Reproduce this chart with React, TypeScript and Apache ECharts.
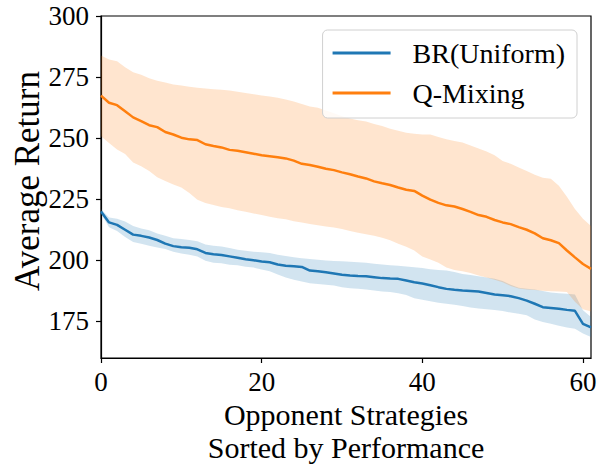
import React, { useEffect, useRef } from "react";
import * as echarts from "echarts";

const strategyIndex: number[] = Array.from({ length: 62 }, (_, i) => i);

const qMixingMean: number[] = [
  267.4, 264.5, 263.5, 261, 258.5, 257, 255.3, 254.5, 252.5, 251.5,
  250.2, 249.5, 249.2, 247.5, 246.8, 246.2, 245.2, 244.8, 244.2, 243.6,
  243.0, 242.6, 242.2, 241.7, 240.8, 239.5, 239.0, 238.3, 237.5, 236.9,
  236.0, 235.2, 234.3, 233.5, 232.3, 231.5, 230.8, 229.8, 228.9, 228.4,
  226.5, 224.8, 223.5, 222.5, 222.0, 221.0, 219.8, 218.5, 217.8, 216.5,
  215.5, 214.8, 213.6, 212.5, 211.0, 209.0, 208.2, 207.0, 204.0, 201.2,
  198.5, 196.5,
];
const qMixingUpper: number[] = [
  283.8, 282.2, 281.5, 279, 277, 276, 274.5, 273.5, 272.8, 272,
  271.5, 271, 270.6, 270.3, 270, 269.8, 269.5, 269, 268.5, 268,
  267.5, 267, 266.5, 265.8, 265, 264, 263, 262.4, 261.3, 260.2,
  259, 258, 257.3, 256.8, 255.8, 255, 253.8, 253, 252.2, 251.8,
  251.5, 251.5, 250.5, 249.5, 248.8, 248.2, 247, 245.8, 244.5, 243,
  240.6, 239.5, 238, 236.5, 235, 233.8, 233.4, 230.5, 226, 221,
  217, 214,
];
const qMixingLower: number[] = [
  250.8, 248, 245.4, 243.5, 240, 238.5, 236.5, 234, 232.5, 231,
  229.8, 227.5, 224.8, 223.5, 222.6, 221.8, 221.3, 220.5, 219.9, 219.2,
  218.5, 217.8, 217.2, 216.8, 216, 215.5, 214.9, 214.3, 213.8, 213.4,
  212.8, 212, 211.3, 210.7, 210, 209.2, 208.2, 206.8, 205.5, 204,
  201.5, 200.3, 199, 197, 196, 195.5, 194.8, 193.8, 193, 192,
  191, 189.5, 188.5, 188, 187.8, 187.5, 187.3, 187.2, 187, 183,
  180, 179,
];

const brMean: number[] = [
  220, 215.5, 214.5, 212.5, 210.5, 210, 209.3, 208.3, 206.8, 205.8,
  205.3, 205.1, 204.5, 203, 202.5, 202.2, 201.6, 201, 200.4, 200,
  199.5, 199.2, 198.3, 197.8, 197.6, 197.3, 195.8, 195.5, 195.1, 194.6,
  194.1, 193.8, 193.6, 193.5, 193.1, 192.7, 192.5, 192.4, 191.7, 191,
  190.5, 189.8, 189, 188.3, 187.9, 187.6, 187.4, 187.2, 186.6, 186,
  185.7, 185.3, 184.5, 183.5, 182.2, 180.8, 180.5, 180.2, 179.7, 179.3,
  174, 172.5,
];
const brUpper: number[] = [
  221, 217.5, 217, 215.9, 214, 213, 212.3, 211, 210, 209,
  208.7, 208.3, 207.8, 206.5, 206, 205.6, 205, 204.3, 203.9, 203.5,
  203.3, 203, 202.3, 201.8, 201.2, 200.8, 200.5, 200.2, 199.9, 199.7,
  199.6, 199.4, 199.2, 199, 198.6, 198.3, 198, 197.8, 197.5, 197.1,
  196.8, 196.3, 196, 195.8, 195.2, 194.4, 194, 193.5, 193, 192.4,
  191.5, 190, 188.8, 188.3, 188, 187.4, 186.8, 186.5, 186.3, 186,
  179.5, 176.8,
];
const brLower: number[] = [
  219, 213.5, 212, 209.5, 207.5, 206.8, 206, 205.2, 204.6, 203.5,
  202.8, 202.3, 201.5, 199.8, 199, 198.8, 198.2, 198, 197.4, 197,
  196.2, 195.5, 194.2, 193, 192, 191.3, 190.6, 190.3, 190, 189.7,
  189, 188.6, 188.3, 188, 187.6, 187.2, 187, 186.5, 185.8, 184.5,
  183.8, 183.2, 182.6, 182.2, 181.8, 181.3, 180.7, 180.3, 180, 179.6,
  179.2, 178.6, 178.1, 177.5, 175.8, 174.7, 174, 173.2, 172.5, 172,
  170, 168.6,
];

const xTicks: number[] = [0, 20, 40, 60];
const yTicks: number[] = [175, 200, 225, 250, 275, 300];

const BLUE = "#1f77b4";
const ORANGE = "#ff7f0e";
const FONT = "Liberation Serif";

function bandRenderer(upper: number[], lower: number[], fill: string) {
  return (params: any, api: any) => {
    if (params.dataIndex !== 0) return null;
    const pts: number[][] = [];
    for (let i = 0; i < upper.length; i++) pts.push(api.coord([strategyIndex[i], upper[i]]));
    for (let i = lower.length - 1; i >= 0; i--) pts.push(api.coord([strategyIndex[i], lower[i]]));
    return { type: "polygon", shape: { points: pts }, style: { fill } };
  };
}

export default function App() {
  const ref = useRef<HTMLDivElement>(null);
  useEffect(() => {
    if (!ref.current) return;
    const chart = echarts.init(ref.current, null, { renderer: "svg" });
    chart.setOption({
      animation: false,
      backgroundColor: "#fff",
      grid: {
        left: 101,
        right: 10,
        top: 16,
        bottom: 108,
        outerBoundsMode: "none",
        containLabel: false,
        show: true,
        borderColor: "#000",
        borderWidth: 1.2,
        backgroundColor: "transparent",
      },
      legend: {
        orient: "vertical",
        right: 24,
        top: 30,
        icon: "rect",
        itemWidth: 58,
        itemHeight: 3,
        itemGap: 10,
        padding: [8, 12, 10, 10],
        borderColor: "#d0d0d0",
        borderWidth: 1,
        borderRadius: 5,
        backgroundColor: "rgba(255,255,255,0.8)",
        textStyle: { fontFamily: FONT, fontSize: 28, lineHeight: 30, color: "#000", padding: [0, 0, 0, 17] },
        data: [
          { name: "BR(Uniform)", itemStyle: { color: BLUE } },
          { name: "Q-Mixing", itemStyle: { color: ORANGE } },
        ],
      },
      xAxis: {
        type: "value",
        min: 0,
        max: 61,
        name: "Opponent Strategies\nSorted by Performance",
        nameLocation: "middle",
        nameGap: 40,
        nameMoveOverlap: false,
        nameTextStyle: { fontFamily: FONT, fontSize: 30, color: "#000", lineHeight: 33, verticalAlign: "top" },
        axisLine: { show: true, lineStyle: { color: "#000", width: 1.2 } },
        axisTick: { show: true, length: 5, lineStyle: { color: "#000", width: 1.2 }, customValues: xTicks },
        axisLabel: { fontFamily: FONT, fontSize: 27, color: "#000", margin: 10, customValues: xTicks },
        splitLine: { show: false },
      },
      yAxis: {
        type: "value",
        min: 160,
        max: 300,
        name: "Average Return",
        nameLocation: "middle",
        nameGap: 56,
        nameMoveOverlap: false,
        nameRotate: 90,
        nameTextStyle: { fontFamily: FONT, fontSize: 35, color: "#000", padding: [0, 0, 0, 12] },
        axisLine: { show: true, lineStyle: { color: "#000", width: 1.2 } },
        axisTick: { show: true, length: 5, lineStyle: { color: "#000", width: 1.2 }, customValues: yTicks },
        axisLabel: { fontFamily: FONT, fontSize: 27, color: "#000", margin: 12, customValues: yTicks },
        splitLine: { show: false },
      },
      series: [
        {
          type: "custom",
          name: "BR band",
          data: [[strategyIndex[0], brMean[0]]],
          renderItem: bandRenderer(brUpper, brLower, "rgba(31,119,180,0.2)"),
          silent: true,
          z: 1,
        },
        {
          type: "custom",
          name: "Q band",
          data: [[strategyIndex[0], qMixingMean[0]]],
          renderItem: bandRenderer(qMixingUpper, qMixingLower, "rgba(255,127,14,0.2)"),
          silent: true,
          z: 1,
        },
        {
          type: "line",
          name: "BR(Uniform)",
          data: strategyIndex.map((x, i) => [x, brMean[i]]),
          symbol: "none",
          lineStyle: { color: BLUE, width: 2.5 },
          itemStyle: { color: BLUE },
          z: 3,
        },
        {
          type: "line",
          name: "Q-Mixing",
          data: strategyIndex.map((x, i) => [x, qMixingMean[i]]),
          symbol: "none",
          lineStyle: { color: ORANGE, width: 2.5 },
          itemStyle: { color: ORANGE },
          z: 3,
        },
      ],
    });
    return () => chart.dispose();
  }, []);
  return <div ref={ref} style={{ width: 601, height: 466, position: "absolute", left: 0, top: 0 }} />;
}
